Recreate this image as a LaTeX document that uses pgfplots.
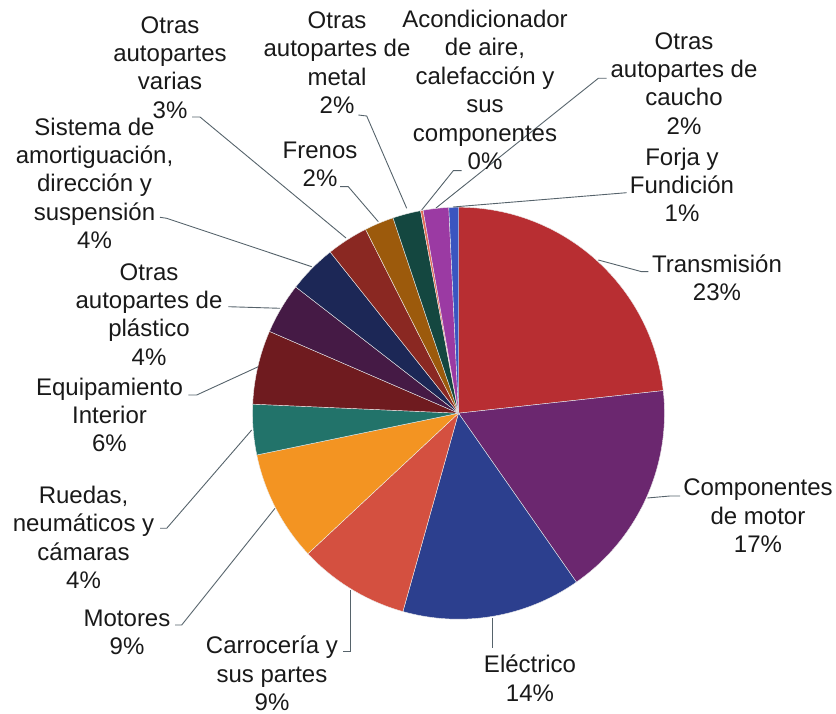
\documentclass[border=0pt]{standalone}
\usepackage{pgfplots}
\pgfplotsset{compat=1.18}
\usepackage{pgfplotstable}
\usepackage{fontspec}
\setmainfont{Liberation Sans}

\definecolor{c0}{HTML}{B82E32}
\definecolor{c1}{HTML}{6B276F}
\definecolor{c2}{HTML}{2C3F8E}
\definecolor{c3}{HTML}{D45040}
\definecolor{c4}{HTML}{F39422}
\definecolor{c5}{HTML}{22736A}
\definecolor{c6}{HTML}{6F1B1F}
\definecolor{c7}{HTML}{451A45}
\definecolor{c8}{HTML}{1C2756}
\definecolor{c9}{HTML}{8A2822}
\definecolor{c10}{HTML}{9C5A0C}
\definecolor{c11}{HTML}{144740}
\definecolor{c12}{HTML}{E36A55}
\definecolor{c13}{HTML}{9B3AA3}
\definecolor{c14}{HTML}{3A55C0}
\definecolor{leader}{HTML}{56636B}

\tikzset{lbl/.style={font=\fontsize{12}{14.2}\selectfont, align=center, inner sep=0pt, text=black!90}}
\pgfplotsset{ldr/.style={leader, line width=0.45pt, no marks, sharp plot, forget plot}}

% share of each category, clockwise from 12 o'clock
\pgfplotstableread{
idx value
0 23.25
1 17.05
2 14.05
3 8.70
4 8.70
5 3.95
6 5.80
7 4.00
8 3.80
9 3.25
10 2.30
11 2.20
12 0.20
13 2.00
14 0.75
}\piedata

\begin{document}
\begin{tikzpicture}
\useasboundingbox (0,0) rectangle (418pt,356.5pt);
\begin{axis}[hide axis, scale only axis, width=418pt, height=356.5pt,
  xmin=0, xmax=836, ymin=0, ymax=713, clip=false,
  at={(0,0)}, anchor=south west]
\gdef\cumangle{90}
\pgfplotsinvokeforeach{0,...,14}{
  \pgfplotstablegetelem{#1}{value}\of\piedata
  \pgfmathsetmacro\startA{\cumangle}
  \pgfmathsetmacro\endA{\cumangle - 3.6*\pgfplotsretval}
  \edef\temp{\noexpand\fill[c#1, draw=white!85!gray, line width=0.2pt] (axis cs:458.5,299.8) -- ++(\startA:103pt) arc[start angle=\startA, end angle=\endA, radius=103pt] -- cycle;}
  \temp
  \xdef\cumangle{\endA}
}
% leader lines
\addplot[ldr] coordinates {(192,596) (200,596) (346,475)};
\addplot[ldr] coordinates {(160,495.7) (166.7,494.7) (311.7,446.3)};
\addplot[ldr] coordinates {(228.3,406.3) (280,404.7)};
\addplot[ldr] coordinates {(188.3,318) (196.7,318) (258.3,346.3)};
\addplot[ldr] coordinates {(160,184.7) (166.7,184.7) (251.7,283)};
\addplot[ldr] coordinates {(175,88) (181.7,88) (275,204.7)};
\addplot[ldr] coordinates {(343.3,61.3) (350,61.3) (350,123)};
\addplot[ldr] coordinates {(492.7,94.7) (492.7,64.7)};
\addplot[ldr] coordinates {(647.3,215) (670,217) (680,217)};
\addplot[ldr] coordinates {(598.3,453) (641.7,441.3) (648.3,441.3)};
\addplot[ldr] coordinates {(453,506) (626.7,520.3)};
\addplot[ldr] coordinates {(436,505) (598.3,634.7) (606.7,634.7)};
\addplot[ldr] coordinates {(421.7,503) (453.3,542.3) (461.7,542.3)};
\addplot[ldr] coordinates {(358.3,598) (366.7,597) (406.7,504.7)};
\addplot[ldr] coordinates {(340,526.3) (348.3,526.3) (378.3,491.3)};
% labels
\node[lbl] at (axis cs:170,645.5) {Otras\\autopartes\\varias\\3\%};
\node[lbl] at (axis cs:337,650.5) {Otras\\autopartes de\\metal\\2\%};
\node[lbl] at (axis cs:485,623) {Acondicionador\\de aire,\\calefacción y\\sus\\componentes\\0\%};
\node[lbl] at (axis cs:684,629.7) {Otras\\autopartes de\\caucho\\2\%};
\node[lbl] at (axis cs:682,528.2) {Forja y\\Fundición\\1\%};
\node[lbl] at (axis cs:717,435.3) {Transmisión\\23\%};
\node[lbl] at (axis cs:758,197) {Componentes\\de motor\\17\%};
\node[lbl] at (axis cs:530,34.7) {Eléctrico\\14\%};
\node[lbl] at (axis cs:272,39.7) {Carrocería y\\sus partes\\9\%};
\node[lbl] at (axis cs:127,80.5) {Motores\\9\%};
\node[lbl] at (axis cs:83.5,175.5) {Ruedas,\\neumáticos y\\cámaras\\4\%};
\node[lbl] at (axis cs:109.5,298) {Equipamiento\\Interior\\6\%};
\node[lbl] at (axis cs:149,398.7) {Otras\\autopartes de\\plástico\\4\%};
\node[lbl] at (axis cs:94.5,529.7) {Sistema de\\amortiguación,\\dirección y\\suspensión\\4\%};
\node[lbl] at (axis cs:320,548.5) {Frenos\\2\%};
\end{axis}
\end{tikzpicture}
\end{document}
